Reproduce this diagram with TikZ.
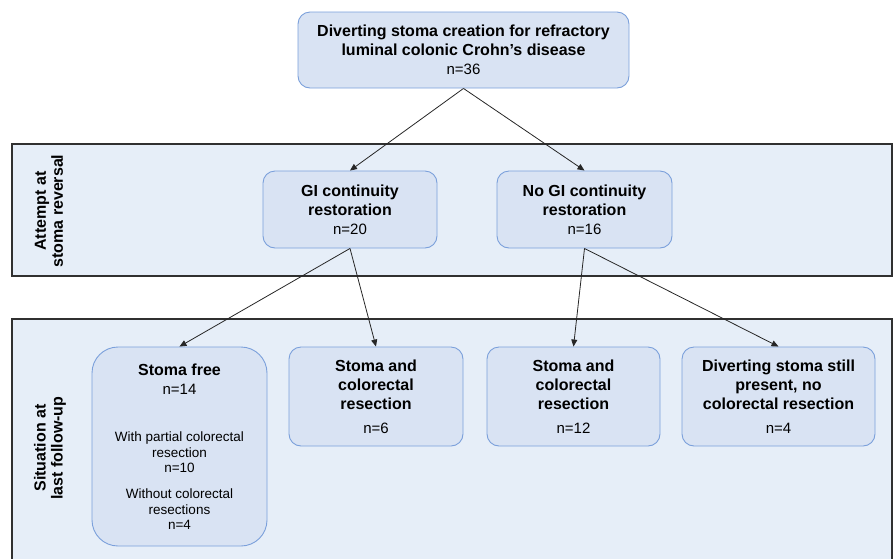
\documentclass[tikz,border=0pt]{standalone}
\usepackage{fontspec}
\setmainfont{Liberation Sans}
\usetikzlibrary{arrows.meta}
\definecolor{bandfill}{HTML}{E6EEF8}
\definecolor{bandline}{HTML}{303030}
\definecolor{boxfill}{HTML}{D9E3F3}
\definecolor{boxline}{HTML}{7BA0DB}
\newcommand*{\nsize}{\fontsize{15}{19}\selectfont}
\newcommand*{\smallsize}{\fontsize{13.5}{16}\selectfont}

\begin{document}
\begin{tikzpicture}[x=1pt, y=-1pt,
    band/.style={draw=bandline, fill=bandfill, line width=1.2pt, minimum width=880pt, inner sep=0pt},
    bandlabel/.style={rotate=90, align=center, font=\bfseries\fontsize{16}{17}\selectfont},
    box/.style={draw=boxline, fill=boxfill, line width=0.9pt, rounded corners=12pt, align=center, inner sep=0pt, font=\fontsize{16}{19}\selectfont},
    arr/.style={draw=black!85, line width=0.8pt, -{Triangle[length=7pt, width=6pt]}}]
    \clip (0,0) rectangle (895,558);
    % Bands
    \node[band, minimum height=132pt] (attempt) at (452,210) {};
    \node[band, minimum height=260pt] (situation) at (452,449) {};
    \node[bandlabel] (attemptlbl) at (49,211) {Attempt at\\stoma reversal};
    \node[bandlabel] (situationlbl) at (50,448) {Situation at\\last follow-up};
    % Nodes
    \node[box, minimum width=331pt, minimum height=76pt] (top) at (463.5,50) {\textbf{Diverting stoma creation for refractory}\\\textbf{luminal colonic Crohn's disease}\\{\nsize n=36}};
    \node[box, minimum width=174pt, minimum height=77pt] (gi) at (350,209.5) {\textbf{GI continuity}\\\textbf{restoration}\\{\nsize n=20}};
    \node[box, minimum width=175pt, minimum height=77pt] (nogi) at (584.5,209.5) {\textbf{No GI continuity}\\\textbf{restoration}\\{\nsize n=16}};
    \node[box, rounded corners=26pt, minimum width=175pt, minimum height=199pt] (free) at (179.5,446.5) {\textbf{Stoma free}\\{\nsize n=14}\\[28pt]
        {\smallsize With partial colorectal}\\[-3pt]{\smallsize resection}\\[-4pt]{\smallsize n=10}\\[7pt]
        {\smallsize Without colorectal}\\[-3pt]{\smallsize resections}\\[-4pt]{\smallsize n=4}};
    \node[box, minimum width=174pt, minimum height=99pt] (stomaA) at (376,396.5) {\textbf{Stoma and}\\\textbf{colorectal}\\\textbf{resection}\\[5pt]{\nsize n=6}};
    \node[box, minimum width=173pt, minimum height=99pt] (stomaB) at (573.5,396.5) {\textbf{Stoma and}\\\textbf{colorectal}\\\textbf{resection}\\[5pt]{\nsize n=12}};
    \node[box, minimum width=193pt, minimum height=99pt] (still) at (778.5,396.5) {\textbf{Diverting stoma still}\\\textbf{present, no}\\\textbf{colorectal resection}\\[5pt]{\nsize n=4}};
    % Top arrows
    \draw[arr] (top.south) -- (gi.north);
    \draw[arr] (top.south) -- (nogi.north);
    % Bottom arrows
    \draw[arr] (gi.south) -- (free.north);
    \draw[arr] (gi.south) -- (stomaA.north);
    \draw[arr] (nogi.south) -- (stomaB.north);
    \draw[arr] (nogi.south) -- (still.north);
\end{tikzpicture}
\end{document}
